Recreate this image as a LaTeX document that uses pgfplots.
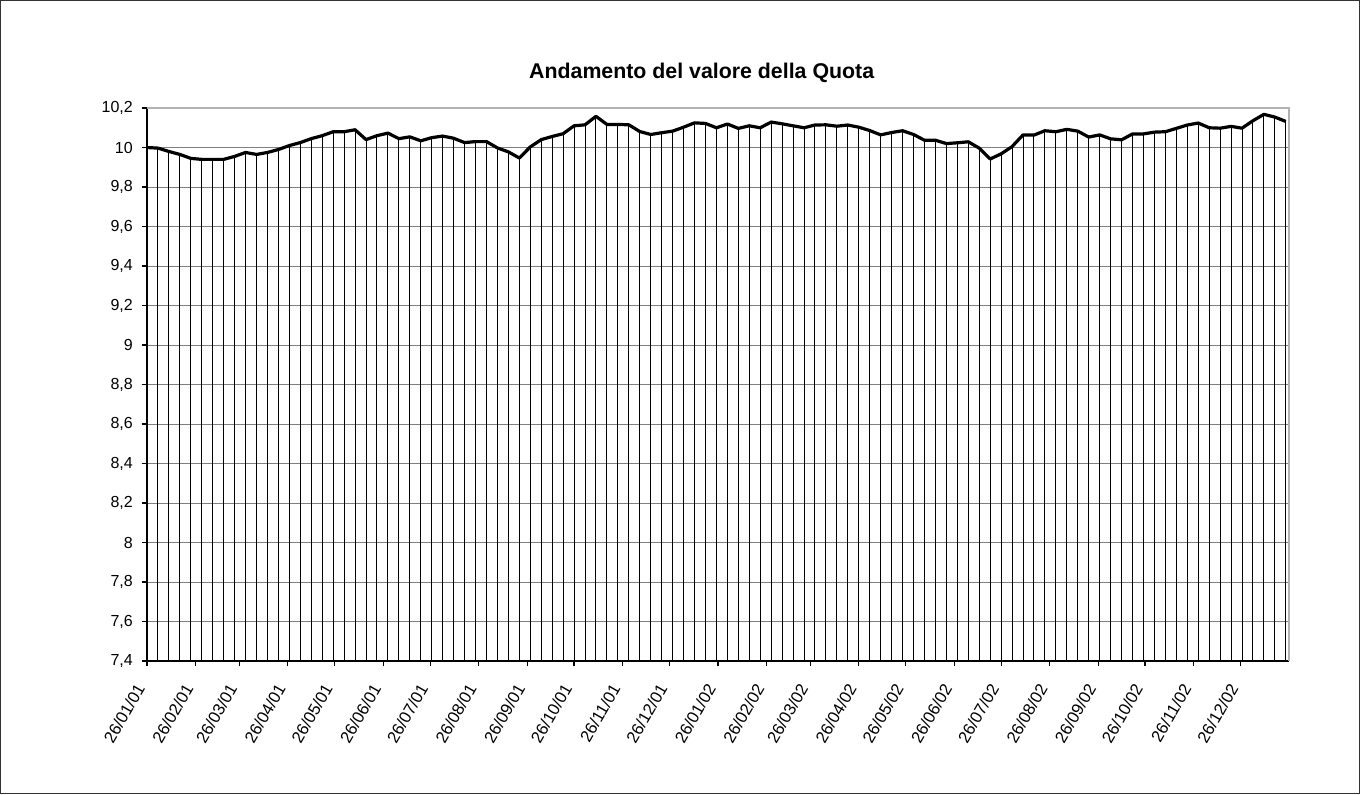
\documentclass[border=0pt]{standalone}
\usepackage{pgfplots}
\pgfplotsset{compat=1.18}
\usepackage{pgfplotstable}
\usepackage{fontspec}
\setmainfont{Liberation Sans}
\pgfplotstableread{
x y
0 10.000
7 9.997
14 9.980
21 9.965
28 9.945
35 9.940
42 9.940
49 9.940
56 9.955
63 9.975
70 9.965
77 9.975
84 9.990
91 10.010
98 10.025
105 10.045
112 10.060
119 10.080
126 10.080
133 10.090
140 10.040
147 10.060
154 10.073
161 10.045
168 10.054
175 10.034
182 10.050
189 10.058
196 10.047
203 10.025
210 10.030
217 10.030
224 9.998
231 9.978
238 9.947
245 10.003
252 10.040
259 10.056
266 10.070
273 10.110
280 10.115
287 10.158
294 10.117
301 10.117
308 10.115
315 10.081
322 10.066
329 10.075
336 10.083
343 10.103
350 10.125
357 10.122
364 10.100
371 10.119
378 10.097
385 10.110
392 10.100
399 10.129
406 10.120
413 10.110
420 10.100
427 10.114
434 10.115
441 10.108
448 10.114
455 10.103
462 10.086
469 10.064
476 10.076
483 10.085
490 10.066
497 10.037
504 10.037
511 10.020
518 10.024
525 10.029
532 9.997
539 9.942
546 9.968
553 10.005
560 10.064
567 10.063
574 10.085
581 10.080
588 10.092
595 10.083
602 10.053
609 10.064
616 10.044
623 10.039
630 10.069
637 10.069
644 10.078
651 10.080
658 10.097
665 10.114
672 10.124
679 10.100
686 10.098
693 10.107
700 10.098
707 10.136
714 10.168
721 10.154
728 10.132
}\quota
\begin{document}
\begin{tikzpicture}
\begin{axis}[
  at={(0,0)}, anchor=south west,
  scale only axis,
  width=856.5pt, height=414.75pt,
  xmin=0, xmax=730,
  ymin=7.4, ymax=10.2,
  axis lines*=left,
  axis line style={black, line width=0.9pt},
  tick align=outside,
  major tick length=4pt,
  tick style={black, line width=0.9pt},
  xtick={0,31,59,90,120,151,181,212,243,273,304,334,365,396,424,455,485,516,546,577,608,638,669,699},
  xticklabels={26/01/01,26/02/01,26/03/01,26/04/01,26/05/01,26/06/01,26/07/01,26/08/01,26/09/01,26/10/01,26/11/01,26/12/01,26/01/02,26/02/02,26/03/02,26/04/02,26/05/02,26/06/02,26/07/02,26/08/02,26/09/02,26/10/02,26/11/02,26/12/02},
  ytick={7.4,7.6,7.8,8,8.2,8.4,8.6,8.8,9,9.2,9.4,9.6,9.8,10,10.2},
  yticklabels={{7,4},{7,6},{7,8},8,{8,2},{8,4},{8,6},{8,8},9,{9,2},{9,4},{9,6},{9,8},10,{10,2}},
  y tick label style={font=\fontsize{12}{14}\selectfont, anchor=east, inner sep=0pt, xshift=-6.5pt},
  x tick label style={font=\fontsize{12.5}{14}\selectfont, xshift=-9pt, yshift=-12pt, rotate=60, anchor=north east, inner sep=0pt},
  ymajorgrids,
  major grid style={black!50, line width=0.75pt},
  clip mode=individual,
]
\addplot[ycomb, black, line width=0.75pt] table[x=x, y=y] {\quota};
\addplot[black, line width=2.4pt, line join=round] table[x=x, y=y] {\quota};
\draw[black!30, line width=1pt] (rel axis cs:0,1) -- (rel axis cs:1,1) -- (rel axis cs:1,0);
\end{axis}
\node[font=\fontsize{16}{19}\selectfont\bfseries] at (416pt,441pt) {Andamento del valore della Quota};
\draw[black!80, line width=0.75pt] (-109.9pt,-99.4pt) rectangle (909.4pt,495.4pt);
\end{tikzpicture}
\end{document}
